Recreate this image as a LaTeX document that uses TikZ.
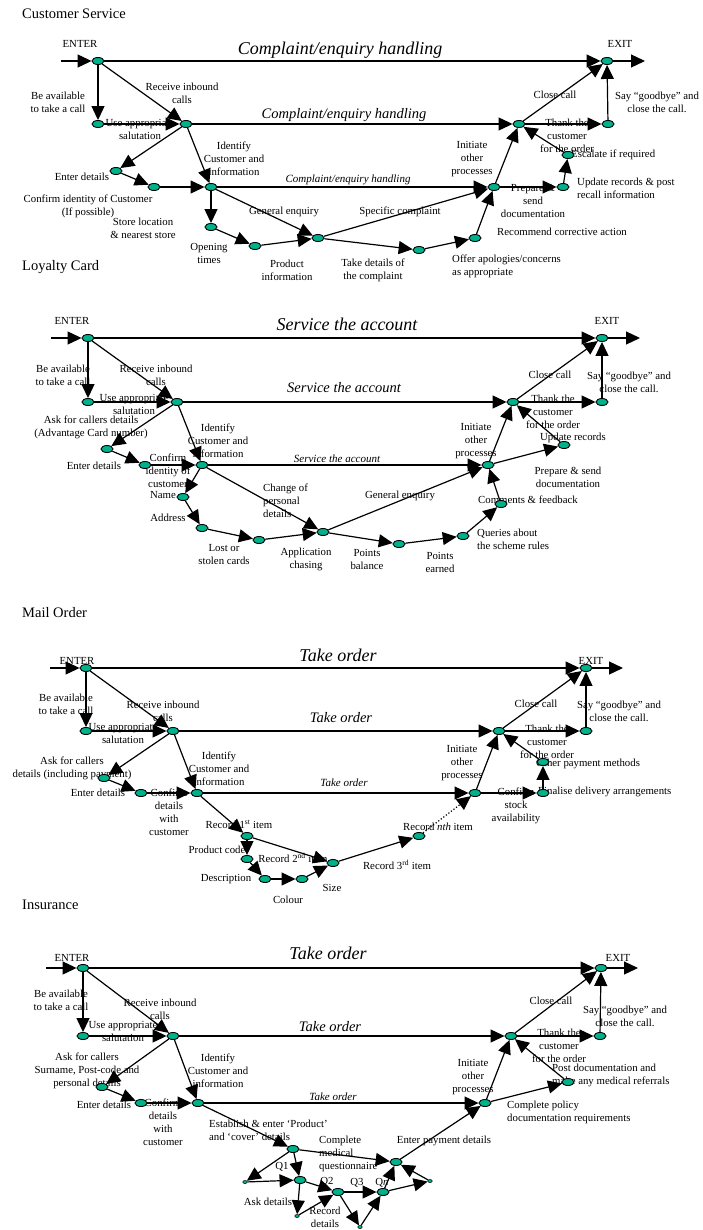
\documentclass[tikz,border=0pt]{standalone}
\usepackage{fontspec}
\setmainfont{Liberation Serif}
\usepackage{tikz}
\usetikzlibrary{shapes.geometric, arrows.meta, positioning}
\definecolor{stepgreen}{RGB}{0,178,140}

\begin{document}
\begin{tikzpicture}[x=1pt, y=-1pt,
    waypoint/.style={ellipse, draw, fill=stepgreen, line width=0.9pt, minimum width=12pt, minimum height=7pt, inner sep=0pt},
    minidot/.style={ellipse, draw, fill=stepgreen, line width=0.5pt, minimum width=4.5pt, minimum height=3pt, inner sep=0pt},
    flow/.style={-{Triangle[length=14pt, width=13pt]}, line width=1.2pt},
    lbl/.style={align=center, inner sep=0pt, font=\fontsize{10.8}{13}\selectfont},
    lbll/.style={lbl, align=left, anchor=west},
    paneltitle/.style={anchor=west, inner sep=0pt, font=\fontsize{14.5}{16}\selectfont},
    bigtitle/.style={inner sep=0pt, font=\fontsize{18}{20}\selectfont\itshape},
    midtitle/.style={inner sep=0pt, font=\fontsize{14.5}{16}\selectfont\itshape},
    smalltitle/.style={inner sep=0pt, font=\fontsize{11}{13}\selectfont\itshape}]

    % Sfondo
    \fill[white] (0,0) rectangle (702,1230);
    \useasboundingbox (0,0) rectangle (702,1230);

    % ---------------- Customer Service ----------------
    \node[paneltitle] (cs-head) at (22,14) {Customer Service};
    \node[lbl] (cs-enter) at (80,44) {ENTER};
    \node[lbl] (cs-exit) at (620,44) {EXIT};
    \node[bigtitle] (cs-t1) at (340,50) {Complaint/enquiry handling};
    \node[midtitle] (cs-t2) at (344,115) {Complaint/enquiry handling};
    \node[smalltitle] (cs-t3) at (348,180) {Complaint/enquiry handling};

    \node[lbl] (cs-l1) at (58,102) {Be available\\to take a call};
    \node[lbl] (cs-l2) at (182,93) {Receive inbound\\calls};
    \node[lbl] (cs-l3) at (140,129) {Use appropriate\\salutation};
    \node[lbl] (cs-l4) at (234,159) {Identify\\Customer and\\information};
    \node[lbl] (cs-l5) at (82,177) {Enter details};
    \node[lbl] (cs-l6) at (88,206) {Confirm identity of Customer\\(If possible)};
    \node[lbl] (cs-l7) at (143,228) {Store location\\\& nearest store};
    \node[lbl] (cs-l8) at (209,253) {Opening\\times};
    \node[lbl] (cs-l9) at (287,270) {Product\\information};
    \node[lbl] (cs-l10) at (284,212) {General enquiry};
    \node[lbl] (cs-l11) at (400,212) {Specific complaint};
    \node[lbl] (cs-l12) at (373,270) {Take details of\\the complaint};
    \node[lbll] (cs-l13) at (452,266) {Offer apologies/concerns\\as appropriate};
    \node[lbl] (cs-l14) at (562,232) {Recommend corrective action};
    \node[lbl] (cs-l15) at (472,159) {Initiate\\other\\processes};
    \node[lbl] (cs-l16) at (533,201) {Prepare \&\\send\\documentation};
    \node[lbll] (cs-l17) at (571,155) {Escalate if required};
    \node[lbll] (cs-l18) at (577,188) {Update records \& post\\recall information};
    \node[lbl] (cs-l19) at (555,95) {Close call};
    \node[lbl] (cs-l20) at (567,136) {Thank the\\customer\\for the order};
    \node[lbl] (cs-l21) at (657,102) {Say “goodbye” and\\close the call.};

    \coordinate (cs-in) at (61,61);
    \coordinate (cs-out) at (645,61);
    \node[waypoint] (cs-e) at (98,61) {};
    \node[waypoint] (cs-x) at (607,61) {};
    \node[waypoint] (cs-u) at (98,124) {};
    \node[waypoint] (cs-r) at (186,124) {};
    \node[waypoint] (cs-c) at (519,124) {};
    \node[waypoint] (cs-t) at (608,124) {};
    \node[waypoint] (cs-d) at (116,171) {};
    \node[waypoint] (cs-ci) at (154,187) {};
    \node[waypoint] (cs-i) at (211,187) {};
    \node[waypoint] (cs-ip) at (494,187) {};
    \node[waypoint] (cs-ot) at (211,227) {};
    \node[waypoint] (cs-pi) at (255,246) {};
    \node[waypoint] (cs-ge) at (318,238) {};
    \node[waypoint] (cs-td) at (419,250) {};
    \node[waypoint] (cs-oa) at (475,238) {};
    \node[waypoint] (cs-ps) at (563,187) {};
    \node[waypoint] (cs-es) at (568,155) {};

    \draw[flow] (cs-in) -- (cs-e);
    \draw[flow] (cs-e) -- (cs-x);
    \draw[flow] (cs-x) -- (cs-out);
    \draw[flow] (cs-e) -- (cs-u);
    \draw[flow] (cs-e) -- (cs-r);
    \draw[flow] (cs-u) -- (cs-r);
    \draw[flow] (cs-r) -- (cs-c);
    \draw[flow] (cs-r) -- (cs-d);
    \draw[flow] (cs-r) -- (cs-i);
    \draw[flow] (cs-d) -- (cs-ci);
    \draw[flow] (cs-ci) -- (cs-i);
    \draw[flow] (cs-i) -- (cs-ip);
    \draw[flow] (cs-i) -- (cs-ot);
    \draw[flow] (cs-ot) -- (cs-pi);
    \draw[flow] (cs-pi) -- (cs-ge);
    \draw[flow] (cs-i) -- (cs-ge);
    \draw[flow] (cs-ge) -- (cs-ip);
    \draw[flow] (cs-ge) -- (cs-td);
    \draw[flow] (cs-td) -- (cs-oa);
    \draw[flow] (cs-oa) -- (cs-ip);
    \draw[flow] (cs-ip) -- (cs-c);
    \draw[flow] (cs-ip) -- (cs-ps);
    \draw[flow] (cs-ps) -- (cs-es);
    \draw[flow] (cs-es) -- (cs-c);
    \draw[flow] (cs-c) -- (cs-x);
    \draw[flow] (cs-c) -- (cs-t);
    \draw[flow] (cs-t) -- (cs-x);

    % ---------------- Loyalty Card ----------------
    \node[paneltitle] (lc-head) at (22,267) {Loyalty Card};
    \node[lbl] (lc-enter) at (72,321) {ENTER};
    \node[lbl] (lc-exit) at (607,321) {EXIT};
    \node[bigtitle] (lc-t1) at (347,324) {Service the account};
    \node[midtitle] (lc-t2) at (344,388) {Service the account};
    \node[smalltitle] (lc-t3) at (337,459) {Service the account};

    \node[lbl] (lc-l1) at (63,375) {Be available\\to take a call};
    \node[lbl] (lc-l2) at (156,375) {Receive inbound\\calls};
    \node[lbl] (lc-l3) at (134,404) {Use appropriate\\salutation};
    \node[lbl] (lc-l4) at (91,427) {Ask for callers details\\(Advantage Card number)};
    \node[lbl] (lc-l5) at (94,466) {Enter details};
    \node[lbl] (lc-l6) at (168,471) {Confirm\\identity of\\customer};
    \node[lbl] (lc-l7) at (218,441) {Identify\\Customer and\\information};
    \node[lbl] (lc-l8) at (163,495) {Name};
    \node[lbl] (lc-l9) at (168,518) {Address};
    \node[lbl] (lc-l10) at (224,555) {Lost or\\stolen cards};
    \node[lbll] (lc-l11) at (263,501) {Change of\\personal\\details};
    \node[lbl] (lc-l12) at (306,559) {Application\\chasing};
    \node[lbl] (lc-l13) at (400,496) {General enquiry};
    \node[lbl] (lc-l14) at (367,559) {Points\\balance};
    \node[lbl] (lc-l15) at (440,562) {Points\\earned};
    \node[lbll] (lc-l16) at (477,539) {Queries about\\the scheme rules};
    \node[lbl] (lc-l17) at (528,500) {Comments \& feedback};
    \node[lbl] (lc-l18) at (476,441) {Initiate\\other\\processes};
    \node[lbl] (lc-l19) at (568,477) {Prepare \& send\\documentation};
    \node[lbl] (lc-l20) at (573,438) {Update records};
    \node[lbl] (lc-l21) at (550,375) {Close call};
    \node[lbl] (lc-l22) at (553,412) {Thank the\\customer\\for the order};
    \node[lbl] (lc-l23) at (629,382) {Say “goodbye” and\\close the call.};

    \coordinate (lc-in) at (51,338);
    \coordinate (lc-out) at (640,338);
    \node[waypoint] (lc-e) at (88,338) {};
    \node[waypoint] (lc-x) at (602,338) {};
    \node[waypoint] (lc-u) at (88,402) {};
    \node[waypoint] (lc-r) at (177,402) {};
    \node[waypoint] (lc-c) at (513,402) {};
    \node[waypoint] (lc-t) at (602,402) {};
    \node[waypoint] (lc-d) at (107,449) {};
    \node[waypoint] (lc-ci) at (145,465) {};
    \node[waypoint] (lc-i) at (202,465) {};
    \node[waypoint] (lc-ip) at (488,465) {};
    \node[waypoint] (lc-n) at (183,497) {};
    \node[waypoint] (lc-a) at (202,528) {};
    \node[waypoint] (lc-lc) at (259,540) {};
    \node[waypoint] (lc-ac) at (323,532) {};
    \node[waypoint] (lc-pb) at (399,544) {};
    \node[waypoint] (lc-pe) at (463,536) {};
    \node[waypoint] (lc-cf) at (501,504) {};
    \node[waypoint] (lc-ur) at (564,445) {};

    \draw[flow] (lc-in) -- (lc-e);
    \draw[flow] (lc-e) -- (lc-x);
    \draw[flow] (lc-x) -- (lc-out);
    \draw[flow] (lc-e) -- (lc-u);
    \draw[flow] (lc-e) -- (lc-r);
    \draw[flow] (lc-u) -- (lc-r);
    \draw[flow] (lc-r) -- (lc-c);
    \draw[flow] (lc-r) -- (lc-d);
    \draw[flow] (lc-r) -- (lc-i);
    \draw[flow] (lc-d) -- (lc-ci);
    \draw[flow] (lc-ci) -- (lc-i);
    \draw[flow] (lc-i) -- (lc-ip);
    \draw[flow] (lc-i) -- (lc-n);
    \draw[flow] (lc-n) -- (lc-a);
    \draw[flow] (lc-a) -- (lc-lc);
    \draw[flow] (lc-lc) -- (lc-ac);
    \draw[flow] (lc-i) -- (lc-ac);
    \draw[flow] (lc-ac) -- (lc-ip);
    \draw[flow] (lc-ac) -- (lc-pb);
    \draw[flow] (lc-pb) -- (lc-pe);
    \draw[flow] (lc-pe) -- (lc-cf);
    \draw[flow] (lc-cf) -- (lc-ip);
    \draw[flow] (lc-ip) -- (lc-c);
    \draw[flow] (lc-ip) -- (lc-ur);
    \draw[flow] (lc-ur) -- (lc-c);
    \draw[flow] (lc-c) -- (lc-x);
    \draw[flow] (lc-c) -- (lc-t);
    \draw[flow] (lc-t) -- (lc-x);

    % ---------------- Mail Order ----------------
    \node[paneltitle] (mo-head) at (22,613) {Mail Order};
    \node[lbl] (mo-enter) at (77,661) {ENTER};
    \node[lbl] (mo-exit) at (591,661) {EXIT};
    \node[bigtitle] (mo-t1) at (338,655) {Take order};
    \node[midtitle] (mo-t2) at (341,718) {Take order};
    \node[smalltitle] (mo-t3) at (344,783) {Take order};

    \node[lbl] (mo-l1) at (66,704) {Be available\\to take a call};
    \node[lbl] (mo-l2) at (163,711) {Receive inbound\\calls};
    \node[lbl] (mo-l3) at (123,733) {Use appropriate\\salutation};
    \node[lbl] (mo-l4) at (72,768) {Ask for callers\\details (including payment)};
    \node[lbl] (mo-l5) at (98,793) {Enter details};
    \node[lbl] (mo-l6) at (169,812) {Confirm\\details\\with\\customer};
    \node[lbl] (mo-l7) at (219,769) {Identify\\Customer and\\information};
    \node[lbl] (mo-l8) at (239,824) {Record 1\textsuperscript{st} item};
    \node[lbl] (mo-l9) at (217,850) {Product code};
    \node[lbl] (mo-l10) at (226,879) {Description};
    \node[lbl] (mo-l11) at (288,900) {Colour};
    \node[lbl] (mo-l12) at (293,858) {Record 2\textsuperscript{nd} item};
    \node[lbl] (mo-l13) at (332,888) {Size};
    \node[lbl] (mo-l14) at (397,865) {Record 3\textsuperscript{rd} item};
    \node[lbl] (mo-l15) at (438,827) {Record \textit{nth} item};
    \node[lbl] (mo-l16) at (462,763) {Initiate\\other\\processes};
    \node[lbl] (mo-l17) at (516,806) {Confirm\\stock\\availability};
    \node[lbll] (mo-l18) at (536,764) {Other payment methods};
    \node[lbll] (mo-l19) at (538,792) {Finalise delivery arrangements};
    \node[lbl] (mo-l20) at (536,704) {Close call};
    \node[lbl] (mo-l21) at (547,742) {Thank the\\customer\\for the order};
    \node[lbl] (mo-l22) at (619,711) {Say “goodbye” and\\close the call.};

    \coordinate (mo-in) at (50,668);
    \coordinate (mo-out) at (623,668);
    \node[waypoint] (mo-e) at (86,668) {};
    \node[waypoint] (mo-x) at (586,668) {};
    \node[waypoint] (mo-u) at (86,731) {};
    \node[waypoint] (mo-r) at (173,731) {};
    \node[waypoint] (mo-c) at (499,731) {};
    \node[waypoint] (mo-t) at (586,731) {};
    \node[waypoint] (mo-d) at (104,778) {};
    \node[waypoint] (mo-ci) at (141,793) {};
    \node[waypoint] (mo-i) at (197,793) {};
    \node[waypoint] (mo-ip) at (475,793) {};
    \node[waypoint] (mo-r1) at (247,836) {};
    \node[waypoint] (mo-pc) at (247,859) {};
    \node[waypoint] (mo-de) at (265,879) {};
    \node[waypoint] (mo-co) at (302,879) {};
    \node[waypoint] (mo-r2) at (333,863) {};
    \node[waypoint] (mo-rn) at (419,836) {};
    \node[waypoint] (mo-cs) at (543,793) {};
    \node[waypoint] (mo-op) at (543,762) {};

    \draw[flow] (mo-in) -- (mo-e);
    \draw[flow] (mo-e) -- (mo-x);
    \draw[flow] (mo-x) -- (mo-out);
    \draw[flow] (mo-e) -- (mo-u);
    \draw[flow] (mo-e) -- (mo-r);
    \draw[flow] (mo-u) -- (mo-r);
    \draw[flow] (mo-r) -- (mo-c);
    \draw[flow] (mo-r) -- (mo-d);
    \draw[flow] (mo-r) -- (mo-i);
    \draw[flow] (mo-d) -- (mo-ci);
    \draw[flow] (mo-ci) -- (mo-i);
    \draw[flow] (mo-i) -- (mo-ip);
    \draw[flow] (mo-i) -- (mo-r1);
    \draw[flow] (mo-r1) -- (mo-pc);
    \draw[flow] (mo-pc) -- (mo-de);
    \draw[flow] (mo-de) -- (mo-co);
    \draw[flow] (mo-co) -- (mo-r2);
    \draw[flow] (mo-r1) -- (mo-r2);
    \draw[flow] (mo-r2) -- (mo-rn);
    \draw[flow, dotted] (mo-rn) -- (mo-ip);
    \draw[flow] (mo-ip) -- (mo-c);
    \draw[flow] (mo-ip) -- (mo-cs);
    \draw[flow] (mo-cs) -- (mo-op);
    \draw[flow] (mo-op) -- (mo-c);
    \draw[flow] (mo-c) -- (mo-x);
    \draw[flow] (mo-c) -- (mo-t);
    \draw[flow] (mo-t) -- (mo-x);

    % ---------------- Insurance ----------------
    \node[paneltitle] (in-head) at (22,905) {Insurance};
    \node[lbl] (in-enter) at (72,958) {ENTER};
    \node[lbl] (in-exit) at (618,958) {EXIT};
    \node[bigtitle] (in-t1) at (328,953) {Take order};
    \node[midtitle] (in-t2) at (330,1027) {Take order};
    \node[smalltitle] (in-t3) at (333,1097) {Take order};

    \node[lbl] (in-l1) at (61,1000) {Be available\\to take a call};
    \node[lbl] (in-l2) at (160,1009) {Receive inbound\\calls};
    \node[lbl] (in-l3) at (123,1031) {Use appropriate\\salutation};
    \node[lbl] (in-l4) at (87,1071) {Ask for callers\\Surname, Post-code and\\personal details};
    \node[lbl] (in-l5) at (104,1105) {Enter details};
    \node[lbl] (in-l6) at (163,1122) {Confirm\\details\\with\\customer};
    \node[lbl] (in-l7) at (218,1071) {Identify\\Customer and\\information};
    \node[lbll] (in-l8) at (209,1130) {Establish \& enter ‘Product’\\and ‘cover’ details};
    \node[lbll] (in-l9) at (319,1154) {Complete\\medical\\questionnaire};
    \node[lbl] (in-l10) at (282,1167) {Q1};
    \node[lbl] (in-l11) at (268,1202) {Ask details};
    \node[lbl] (in-l12) at (327,1182) {Q2};
    \node[lbl] (in-l13) at (325,1217) {Record\\details};
    \node[lbl] (in-l14) at (357,1183) {Q3};
    \node[lbl] (in-l15) at (382,1183) {Q\textit{n}};
    \node[lbl] (in-l16) at (444,1141) {Enter payment details};
    \node[lbl] (in-l17) at (473,1077) {Initiate\\other\\processes};
    \node[lbll] (in-l18) at (507,1112) {Complete policy\\documentation requirements};
    \node[lbll] (in-l19) at (552,1075) {Post documentation and\\make any medical referrals};
    \node[lbl] (in-l20) at (551,1001) {Close call};
    \node[lbl] (in-l21) at (559,1046) {Thank the\\customer\\for the order};
    \node[lbl] (in-l22) at (625,1016) {Say “goodbye” and\\close the call.};

    \coordinate (in-in) at (46,968);
    \coordinate (in-out) at (638,968);
    \node[waypoint] (in-e) at (83,968) {};
    \node[waypoint] (in-x) at (601,968) {};
    \node[waypoint] (in-u) at (83,1036) {};
    \node[waypoint] (in-r) at (173,1036) {};
    \node[waypoint] (in-c) at (511,1036) {};
    \node[waypoint] (in-t) at (600,1036) {};
    \node[waypoint] (in-d) at (102,1087) {};
    \node[waypoint] (in-ci) at (141,1103) {};
    \node[waypoint] (in-i) at (198,1103) {};
    \node[waypoint] (in-ip) at (485,1103) {};
    \node[waypoint] (in-ep) at (293,1149) {};
    \node[waypoint] (in-pm) at (396,1162) {};
    \node[waypoint] (in-q1) at (300,1180) {};
    \node[waypoint] (in-q2) at (338,1192) {};
    \node[waypoint] (in-qn) at (383,1192) {};
    \node[minidot] (in-s1) at (245,1182) {};
    \node[minidot] (in-s2) at (297,1216) {};
    \node[minidot] (in-s3) at (360,1227) {};
    \node[minidot] (in-s4) at (430,1181) {};
    \node[waypoint] (in-pd) at (568,1082) {};

    \draw[flow] (in-in) -- (in-e);
    \draw[flow] (in-e) -- (in-x);
    \draw[flow] (in-x) -- (in-out);
    \draw[flow] (in-e) -- (in-u);
    \draw[flow] (in-e) -- (in-r);
    \draw[flow] (in-u) -- (in-r);
    \draw[flow] (in-r) -- (in-c);
    \draw[flow] (in-r) -- (in-d);
    \draw[flow] (in-r) -- (in-i);
    \draw[flow] (in-d) -- (in-ci);
    \draw[flow] (in-ci) -- (in-i);
    \draw[flow] (in-i) -- (in-ip);
    \draw[flow] (in-i) -- (in-ep);
    \draw[flow] (in-ep) -- (in-pm);
    \draw[flow] (in-ep) -- (in-q1);
    \draw[flow] (in-ep) -- (in-s1);
    \draw[flow] (in-s1) -- (in-q1);
    \draw[flow] (in-q1) -- (in-q2);
    \draw[flow] (in-q1) -- (in-s2);
    \draw[flow] (in-s2) -- (in-q2);
    \draw[flow] (in-q2) -- (in-qn);
    \draw[flow] (in-q2) -- (in-s3);
    \draw[flow] (in-s3) -- (in-qn);
    \draw[flow] (in-qn) -- (in-pm);
    \draw[flow] (in-qn) -- (in-s4);
    \draw[flow] (in-s4) -- (in-pm);
    \draw[flow] (in-pm) -- (in-ip);
    \draw[flow] (in-ip) -- (in-c);
    \draw[flow] (in-ip) -- (in-pd);
    \draw[flow] (in-pd) -- (in-c);
    \draw[flow] (in-c) -- (in-x);
    \draw[flow] (in-c) -- (in-t);
    \draw[flow] (in-t) -- (in-x);
\end{tikzpicture}
\end{document}
